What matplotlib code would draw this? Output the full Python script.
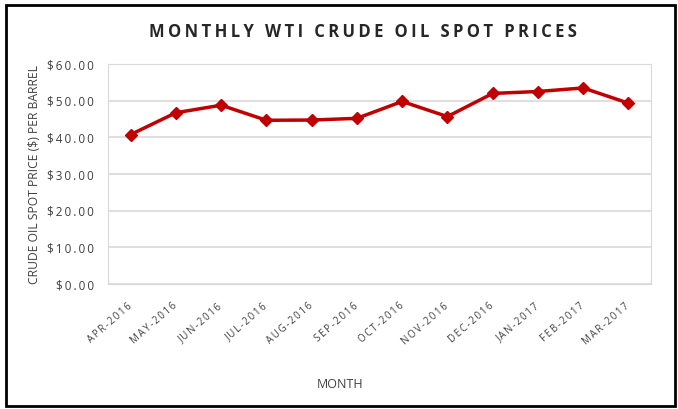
import matplotlib.pyplot as plt
from matplotlib.patches import Rectangle

months = ['APR-2016', 'MAY-2016', 'JUN-2016', 'JUL-2016', 'AUG-2016', 'SEP-2016',
          'OCT-2016', 'NOV-2016', 'DEC-2016', 'JAN-2017', 'FEB-2017', 'MAR-2017']
prices = [40.75, 46.71, 48.76, 44.65, 44.72, 45.18, 49.78, 45.66, 51.97, 52.50, 53.47, 49.33]
yticks = [0, 10, 20, 30, 40, 50, 60]

plt.rcParams['font.family'] = ['Open Sans', 'DejaVu Sans']


def spaced(s):
    # wide letter spacing like the original chart
    return '\u2009'.join(s)


fig = plt.figure(figsize=(6.78, 4.09), dpi=100)
ax = fig.add_axes([108 / 678, 125 / 409, 543 / 678, 220 / 409])

x = list(range(len(months)))
ax.plot(x, prices, color='#c00000', linewidth=2.5, marker='D', markersize=6.5, zorder=3)

ax.set_xlim(-0.5, len(months) - 0.5)
ax.set_ylim(0, 60)
ax.set_yticks(yticks)
ax.set_yticklabels([spaced('${:.2f}'.format(v)) for v in yticks], fontsize=8.5, color='#404040')
ax.grid(axis='y', color='#d9d9d9', linewidth=1.2)
ax.set_axisbelow(True)
for s in ax.spines.values():
    s.set_color('#d9d9d9')
ax.tick_params(length=0)
ax.tick_params(axis='y', pad=10)

ax.set_xticks(x)
ax.set_xticklabels([spaced(m) for m in months], rotation=41, ha='right', va='center',
                   rotation_mode='anchor', fontsize=7, color='#404040')
ax.tick_params(axis='x', pad=15)

fig.text(35 / 678, 1 - 175 / 409, 'CRUDE OIL SPOT PRICE ($) PER BARREL', rotation=90,
         ha='center', va='center', fontsize=8.7, color='#404040')
fig.text(340 / 678, 1 - 385 / 409, 'MONTH', ha='center', va='center', fontsize=9, color='#404040')
fig.text(363 / 678, 1 - 32 / 409, spaced('MONTHLY WTI CRUDE OIL SPOT PRICES'), ha='center',
         va='center', fontsize=12, fontweight='bold', color='#262626')

fig.patches.append(Rectangle((6 / 678, 3 / 409), 669 / 678, 401 / 409, transform=fig.transFigure,
                             fill=False, edgecolor='black', linewidth=2))

fig.savefig('out.png', dpi=100)
